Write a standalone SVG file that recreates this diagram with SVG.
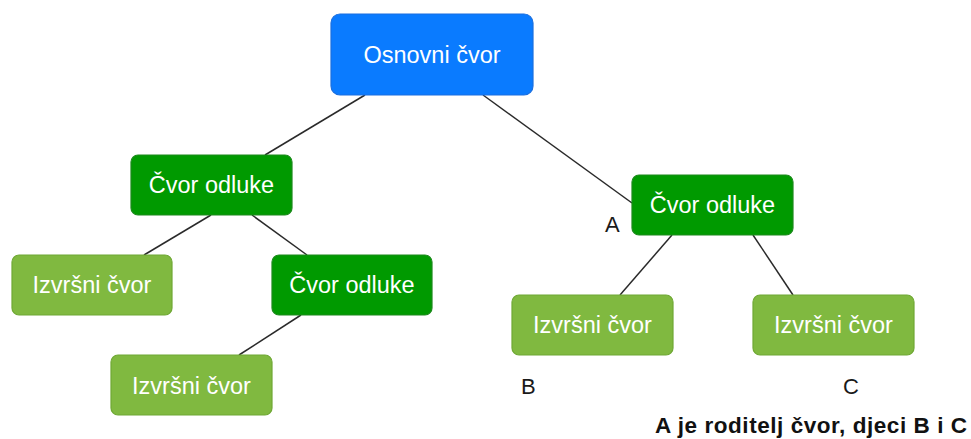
<svg xmlns="http://www.w3.org/2000/svg" width="971" height="439" viewBox="0 0 971 439">
<style>
.box{stroke-width:1.2}
.root{fill:#0a7bff;stroke:#1a6fe0}
.dec{fill:#009a00;stroke:#1c8a1c}
.leaf{fill:#80b940;stroke:#6fa834}
.t{font-family:"Liberation Sans",Arial,sans-serif;font-size:23.5px;fill:#ffffff;text-anchor:middle}
.lbl{font-family:"Liberation Sans",Arial,sans-serif;font-size:22px;fill:#1a1a1a}
.note{font-family:"Liberation Sans",Arial,sans-serif;font-size:22.5px;font-weight:bold;fill:#111111}
.edge{stroke:#2a2a2a;stroke-width:1.5;fill:none}
</style>
<rect width="971" height="439" fill="#ffffff"/>
<g id="connectors">
<line class="edge" x1="365" y1="95" x2="265" y2="155"/>
<line class="edge" x1="483" y1="95" x2="632" y2="203"/>
<line class="edge" x1="211" y1="215" x2="144" y2="255"/>
<line class="edge" x1="252" y1="215" x2="307" y2="255"/>
<line class="edge" x1="301" y1="315" x2="239" y2="355"/>
<line class="edge" x1="672" y1="235" x2="620" y2="295"/>
<line class="edge" x1="753" y1="235" x2="793" y2="295"/>
</g>
<g id="root">
<rect class="box root" x="331" y="14" width="202" height="81" rx="9"/>
<text class="t" x="432" y="63">Osnovni čvor</text>
</g>
<g id="dec1">
<rect class="box dec" x="131" y="155" width="161" height="60" rx="7"/>
<text class="t" x="211.5" y="193">Čvor odluke</text>
</g>
<g id="leaf1">
<rect class="box leaf" x="12" y="255" width="160" height="60" rx="7"/>
<text class="t" x="92" y="293">Izvršni čvor</text>
</g>
<g id="dec2">
<rect class="box dec" x="272" y="255" width="160" height="60" rx="7"/>
<text class="t" x="352" y="293">Čvor odluke</text>
</g>
<g id="leaf2">
<rect class="box leaf" x="111" y="355" width="161" height="60" rx="7"/>
<text class="t" x="191.5" y="394">Izvršni čvor</text>
</g>
<g id="dec3">
<rect class="box dec" x="632" y="175" width="161" height="60" rx="7"/>
<text class="t" x="712.5" y="213">Čvor odluke</text>
</g>
<g id="leafB">
<rect class="box leaf" x="512" y="295" width="161" height="60" rx="7"/>
<text class="t" x="592.5" y="333">Izvršni čvor</text>
</g>
<g id="leafC">
<rect class="box leaf" x="753" y="295" width="161" height="60" rx="7"/>
<text class="t" x="833.5" y="333">Izvršni čvor</text>
</g>
<g id="labels">
<text class="lbl" x="605" y="232">A</text>
<text class="lbl" x="521" y="394">B</text>
<text class="lbl" x="843" y="394">C</text>
<text class="note" x="655" y="433" textLength="312" lengthAdjust="spacing">A je roditelj čvor, djeci B i C</text>
</g>
</svg>
